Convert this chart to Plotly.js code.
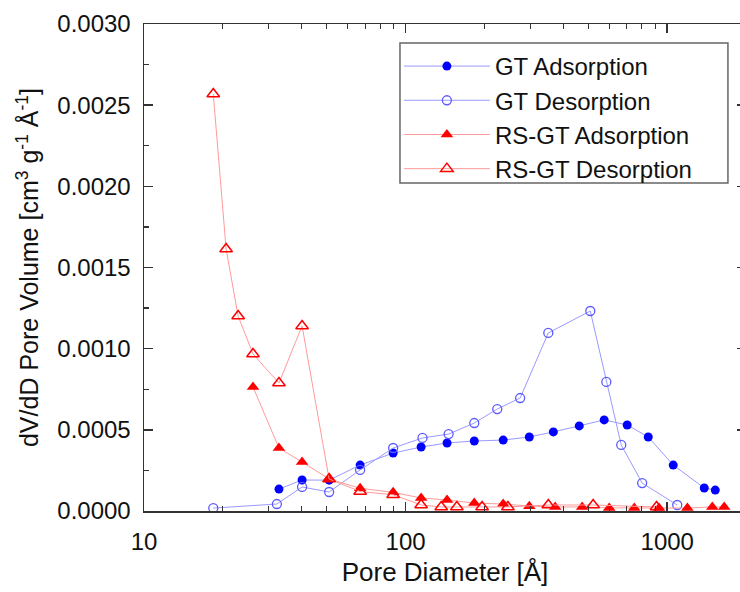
<!DOCTYPE html>
<html>
<head>
<meta charset="utf-8">
<script src="https://cdn.plot.ly/plotly-3.0.1.min.js"></script>
<style>
html,body{margin:0;padding:0;overflow:hidden;background:#fff;}
#chart{width:748px;height:592px;}
</style>
</head>
<body>
<div id="chart"></div>
<script>
// GT Adsorption
const gtAdsX = [32.8, 40.2, 51, 67, 89.6, 114.6, 144, 183, 236, 297, 367, 461, 574, 703, 846, 1054, 1385, 1526];
const gtAdsY = [0.000135, 0.000191, 0.00019, 0.000283, 0.000357, 0.000394, 0.000419, 0.000431, 0.000437, 0.000456, 0.000487, 0.000524, 0.000561, 0.00053, 0.000456, 0.000283, 0.000142, 0.000129];
// GT Desorption
const gtDesX = [18.4, 32.2, 40.2, 51, 67, 89.6, 116, 146, 183, 224, 274, 351, 508, 585, 667, 802, 1092];
const gtDesY = [0.000018, 0.000043, 0.000148, 0.000117, 0.000253, 0.000388, 0.00045, 0.000474, 0.000542, 0.000628, 0.000696, 0.001097, 0.001232, 0.000795, 0.000407, 0.000172, 0.000037];
// RS-GT Adsorption
const rsAdsX = [26.1, 32.8, 40.2, 51, 67, 89.6, 114.6, 144, 183, 236, 297, 373, 473, 600, 748, 930, 1194, 1487, 1651];
const rsAdsY = [0.000764, 0.000388, 0.000302, 0.000197, 0.00014, 0.000115, 0.00008, 0.000068, 0.000049, 0.000043, 0.00003, 0.000025, 0.000025, 0.000019, 0.000019, 0.000019, 0.0000185, 0.000025, 0.000025];
// RS-GT Desorption
const rsDesX = [18.4, 20.6, 22.9, 26.1, 32.8, 40.2, 51, 67, 89.6, 114.6, 136.8, 157, 196, 246, 351, 521, 910];
const rsDesY = [0.002569, 0.001614, 0.001201, 0.000967, 0.000788, 0.00114, 0.000197, 0.00012, 0.0001, 0.000037, 0.000025, 0.000025, 0.000025, 0.000025, 0.000037, 0.000037, 0.000025];

const seriesNames = ["GT Adsorption", "GT Desorption", "RS-GT Adsorption", "RS-GT Desorption"];
const xTitle = "Pore Diameter [Å]";
const yTitle = "dV/dD Pore Volume [cm<sup>3</sup> g<sup>-1</sup> Å<sup>-1</sup>]";

const FONT = "Arial, 'Liberation Sans', sans-serif";

const traces = [
  {x: gtAdsX, y: gtAdsY, name: seriesNames[0], type: "scatter", mode: "lines+markers",
   line: {color: "#9a9aff", width: 1},
   marker: {symbol: "circle", size: 9, color: "#0000ff", line: {width: 0}}},
  {x: gtDesX, y: gtDesY, name: seriesNames[1], type: "scatter", mode: "lines+markers",
   line: {color: "#9a9aff", width: 1},
   marker: {symbol: "circle-open", size: 9, color: "#5a5aff", line: {width: 1.3, color: "#5a5aff"}}},
  {x: rsAdsX, y: rsAdsY, name: seriesNames[2], type: "scatter", mode: "lines+markers",
   line: {color: "#ff9a9a", width: 1},
   marker: {symbol: "triangle-up", size: 11, color: "#ff0000", line: {width: 0}}},
  {x: rsDesX, y: rsDesY, name: seriesNames[3], type: "scatter", mode: "lines+markers",
   line: {color: "#ff9a9a", width: 1},
   marker: {symbol: "triangle-up-open", size: 11, color: "#ff0000", line: {width: 1.5, color: "#ff0000"}}}
];

const layout = {
  width: 748, height: 592,
  margin: {l: 144, r: 2, t: 24, b: 81, pad: 0},
  paper_bgcolor: "#fff", plot_bgcolor: "#fff",
  font: {family: FONT, color: "#111", size: 24},
  showlegend: true,
  legend: {
    x: 0.4234, y: 0.959, xanchor: "left", yanchor: "top",
    bgcolor: "rgba(0,0,0,0)", borderwidth: 0,
    font: {family: FONT, size: 24, color: "#111"},
    itemwidth: 86, tracegroupgap: 0
  },
  shapes: [{
    type: "rect", xref: "paper", yref: "paper",
    x0: 0.4252, x1: 0.970, y0: 0.6735, y1: 0.961,
    line: {color: "#666", width: 1.5}, fillcolor: "#fff", layer: "above"
  }],
  xaxis: {
    type: "log", range: [1, Math.log10(2000)],
    dtick: 1, exponentformat: "none",
    showline: true, linecolor: "#333", linewidth: 1.5, mirror: "ticks",
    ticks: "inside", ticklen: 9, tickwidth: 1.5, tickcolor: "#333",
    minor: {dtick: "D1", ticks: "inside", ticklen: 5, tickwidth: 1.2, tickcolor: "#333", showgrid: false},
    showgrid: false, zeroline: false,
    ticklabelstandoff: 9,
    tickfont: {family: FONT, size: 24, color: "#111"},
    title: {text: xTitle, font: {family: FONT, size: 26, color: "#111"}, standoff: 8}
  },
  yaxis: {
    range: [0, 0.003], dtick: 0.0005, tickformat: ".4f",
    showline: true, linecolor: "#333", linewidth: 1.5, mirror: "ticks",
    ticks: "inside", ticklen: 9, tickwidth: 1.5, tickcolor: "#333",
    minor: {dtick: 0.00025, ticks: "inside", ticklen: 5, tickwidth: 1.2, tickcolor: "#333", showgrid: false},
    showgrid: false, zeroline: false,
    ticklabelstandoff: 7,
    tickfont: {family: FONT, size: 24, color: "#111"},
    title: {text: yTitle, font: {family: FONT, size: 25, color: "#111"}, standoff: 11}
  }
};

Plotly.newPlot("chart", traces, layout, {displayModeBar: false, staticPlot: true});
</script>
</body>
</html>
